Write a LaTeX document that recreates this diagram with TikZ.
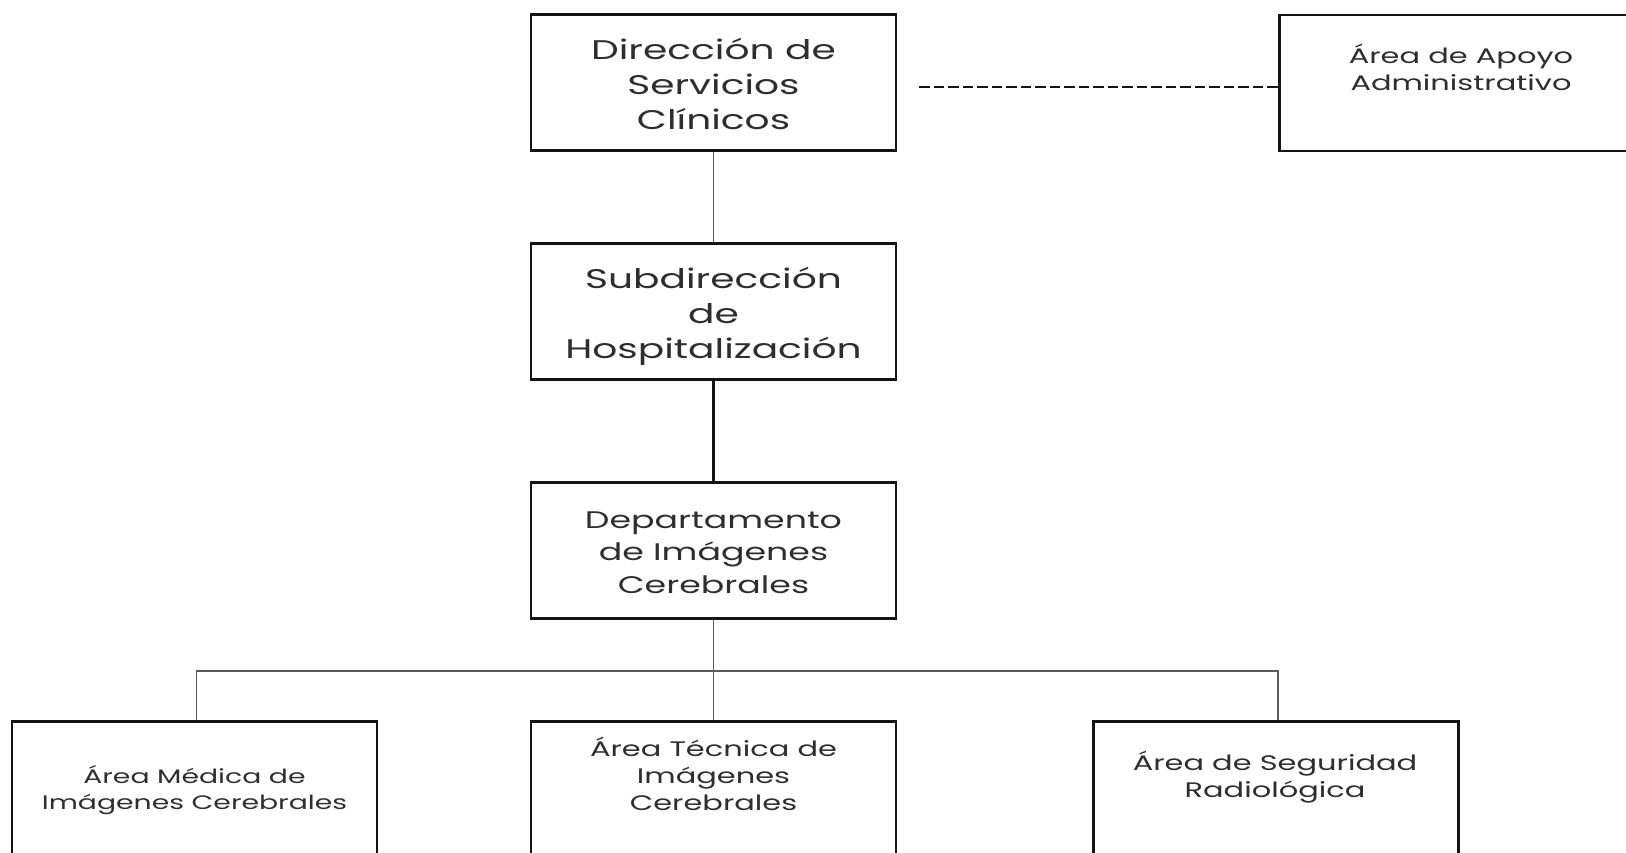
\documentclass[tikz,border=0pt]{standalone}
\usepackage{fontspec}
\setmainfont{Poppins}[FakeStretch=1.45]
\begin{document}
\begin{tikzpicture}[x=1pt,y=-1pt,
  orgbox/.style={draw=black!92, line width=2.4pt, rectangle, inner sep=0pt,
    minimum width=365pt, minimum height=136pt},
  bigtxt/.style={font=\fontsize{27}{35}\selectfont, text=black!82, align=center, inner sep=0pt},
  midtxt/.style={font=\fontsize{24}{32.5}\selectfont, text=black!82, align=center, inner sep=0pt},
  smalltxt/.style={font=\fontsize{21}{27}\selectfont, text=black!82, align=center, inner sep=0pt},
  thinline/.style={draw=black!65, line width=1.2pt},
  thickline/.style={draw=black!92, line width=2.4pt},
  dashline/.style={draw=black!92, line width=2.4pt, dash pattern=on 10.5pt off 4pt}]
\useasboundingbox (0,0) rectangle (1626,852);
\clip (0,0) rectangle (1626,852);

% boxes
\node[orgbox] (dir) at (713.5,82.5) {};
\node[orgbox] (sub) at (713.5,311.5) {};
\node[orgbox] (dep) at (713.5,550.5) {};
\node[orgbox] (apoyo) at (1462,83) {};
\node[orgbox] (bl) at (194.5,789.5) {};
\node[orgbox] (bm) at (713.5,789.5) {};
\node[orgbox] (br) at (1276,789.5) {};

% texts
\node[bigtxt] (dirtxt) at (713.5,83.5) {Dirección de\\Servicios\\Clínicos};
\node[bigtxt] (subtxt) at (713.5,316.5) {Subdirección\\de\\Hospitalización};
\node[midtxt] (deptxt) at (713.5,552.5) {Departamento\\de Imágenes\\Cerebrales};
\node[smalltxt] (apoyotxt) at (1461,67.5) {Área de Apoyo\\Administrativo};
\node[smalltxt, font=\fontsize{19.5}{26}\selectfont] (bltxt) at (194.5,790.5) {Área Médica de\\Imágenes Cerebrales};
\node[smalltxt] (bmtxt) at (713.5,774) {Área Técnica de\\Imágenes\\Cerebrales};
\node[smalltxt] (brtxt) at (1275,777.5) {Área de Seguridad\\Radiológica};

% connectors
\coordinate (hub) at (713.5,671);
\coordinate (dstart) at (919,87);
\draw[thinline] (dir.south) -- (sub.north);
\draw[thickline] (sub.south) -- (dep.north);
\draw[thinline] (dep.south) -- (bm.north);
\draw[thinline] ([xshift=2pt]bl.north) |- (hub) -| ([xshift=2pt]br.north);
\draw[dashline] (dstart) -- (dstart -| apoyo.west);
\end{tikzpicture}
\end{document}
